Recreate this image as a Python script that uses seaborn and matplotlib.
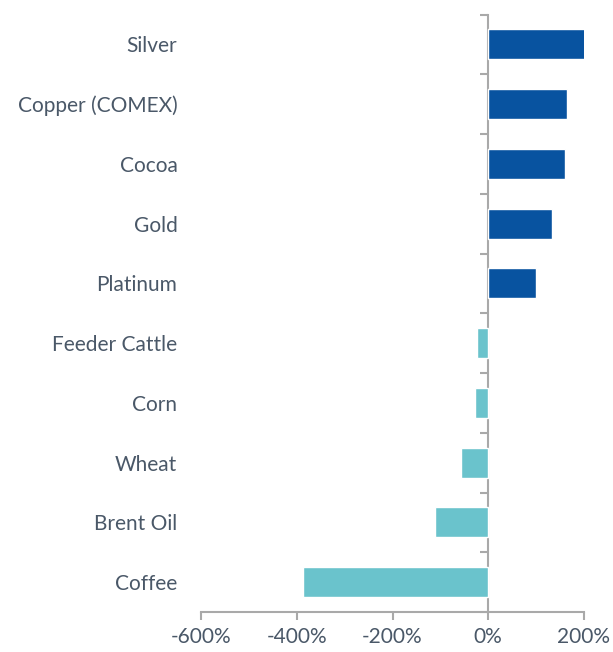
import matplotlib
matplotlib.use("Agg")
import matplotlib.pyplot as plt
import seaborn as sns
import pandas as pd
from matplotlib.ticker import FixedLocator, FuncFormatter

commodities = ["Silver", "Copper (COMEX)", "Cocoa", "Gold", "Platinum",
               "Feeder Cattle", "Corn", "Wheat", "Brent Oil", "Coffee"]
change_pct = [203, 164, 160, 134, 100, -24.5, -28.6, -56, -112, -387]
x_ticks = [-600, -400, -200, 0, 200]

df = pd.DataFrame({"commodity": commodities, "change": change_pct})
df["direction"] = ["up" if v >= 0 else "down" for v in df["change"]]

sns.set_style("ticks")
plt.rcParams["font.family"] = ["Lato", "DejaVu Sans"]

text_color = "#4a5868"
axis_color = "#a9a9a9"

fig = plt.figure(figsize=(6.13, 6.52), dpi=100)
ax = fig.add_axes([201 / 613, 40 / 652, 383 / 613, 597.5 / 652])

sns.barplot(data=df, x="change", y="commodity", hue="direction",
            palette={"up": "#0853a0", "down": "#6ac3cc"}, saturation=1,
            order=commodities, dodge=False, width=0.5, legend=False, ax=ax)

ax.set_xlim(-600, 200)
ax.set_ylim(len(commodities) - 0.5, -0.5)
ax.set_xlabel("")
ax.set_ylabel("")

for side in ["top", "right", "left"]:
    ax.spines[side].set_visible(False)
ax.spines["bottom"].set_color(axis_color)
ax.spines["bottom"].set_linewidth(1.5)

ax.xaxis.set_major_locator(FixedLocator(x_ticks))
ax.xaxis.set_major_formatter(FuncFormatter(lambda v, p: f"{v:.0f}%"))
ax.tick_params(axis="x", which="major", bottom=True, direction="out",
               length=6, width=1.5, color=axis_color,
               labelsize=15, labelcolor=text_color, pad=5)
ax.tick_params(axis="y", left=True, length=0, labelsize=15,
               labelcolor=text_color, pad=17)

# Vertical zero axis with ticks between categories
zero_frac = (0 - (-600)) / (200 - (-600))
sec = ax.secondary_yaxis(zero_frac)
for sp in sec.spines.values():
    sp.set_color(axis_color)
    sp.set_linewidth(1.5)
sec.yaxis.set_ticks_position("left")
sec.set_yticks([i - 0.5 for i in range(len(commodities) + 1)])
sec.set_yticklabels([])
sec.tick_params(axis="y", which="major", left=True, right=False,
                direction="out", length=6, width=1.5, color=axis_color)

fig.savefig("out.png", dpi=100)
